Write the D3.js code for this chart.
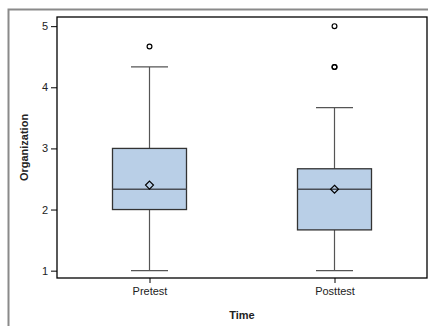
<!DOCTYPE html>
<html>
<head>
<meta charset="utf-8">
<script src="https://cdn.jsdelivr.net/npm/d3@7"></script>
<style>
  body { margin: 0; background: #fff; }
  #chart { width: 428px; height: 326px; }
  text { font-family: "Liberation Sans", Arial, sans-serif; fill: #222; }
  .axis path, .axis line { stroke: #000; }
</style>
</head>
<body>
<div id="chart"></div>
<script>
// Données
const categories = ["Pretest", "Posttest"];
const q1 = [2, 1.667];
const medians = [2.333, 2.333];
const q3 = [3, 2.667];
const whiskerLow = [1, 1];
const whiskerHigh = [4.333, 3.667];
const means = [2.4, 2.333];
const outliers = [[4.667], [5, 4.333, 4.333]];
const yTicks = [1, 2, 3, 4, 5];

const margin = { top: 17, right: 1, bottom: 48, left: 57 };
const W = 428, H = 326;
const width = W - margin.left - margin.right;
const height = H - margin.top - margin.bottom;

const svgRoot = d3.select("#chart").append("svg")
    .attr("width", W)
    .attr("height", H);

// cadre extérieur gris
svgRoot.append("rect")
    .attr("x", 8.5).attr("y", 9.5)
    .attr("width", W + 10).attr("height", H + 10)
    .attr("fill", "none")
    .attr("stroke", "#8a8a8a")
    .attr("stroke-width", 2);

const svg = svgRoot.append("g")
    .attr("transform", "translate(" + margin.left + "," + margin.top + ")");

const x = d3.scalePoint()
    .domain(categories)
    .range([0, width])
    .padding(0.5);

const y = d3.scaleLinear()
    .domain([0.88, 5.15])
    .range([height, 0]);

const boxW = width * 0.2;

const data = categories.map((c, i) => ({
    cat: c, q1: q1[i], med: medians[i], q3: q3[i],
    lo: whiskerLow[i], hi: whiskerHigh[i], mean: means[i], out: outliers[i]
}));

const g = svg.selectAll(".box")
    .data(data)
    .enter().append("g")
    .attr("class", "box")
    .attr("transform", d => "translate(" + x(d.cat) + ",0)");

// moustaches
g.append("line")
    .attr("x1", 0).attr("x2", 0)
    .attr("y1", d => y(d.hi)).attr("y2", d => y(d.q3))
    .attr("stroke", "#555").attr("stroke-width", 1.2);
g.append("line")
    .attr("x1", 0).attr("x2", 0)
    .attr("y1", d => y(d.q1)).attr("y2", d => y(d.lo))
    .attr("stroke", "#555").attr("stroke-width", 1.2);
g.append("line")
    .attr("x1", -boxW / 4).attr("x2", boxW / 4)
    .attr("y1", d => y(d.hi)).attr("y2", d => y(d.hi))
    .attr("stroke", "#555").attr("stroke-width", 1.2);
g.append("line")
    .attr("x1", -boxW / 4).attr("x2", boxW / 4)
    .attr("y1", d => y(d.lo)).attr("y2", d => y(d.lo))
    .attr("stroke", "#555").attr("stroke-width", 1.2);

// boîte
g.append("rect")
    .attr("x", -boxW / 2)
    .attr("y", d => y(d.q3))
    .attr("width", boxW)
    .attr("height", d => y(d.q1) - y(d.q3))
    .attr("fill", "#b9cfe7")
    .attr("stroke", "#333")
    .attr("stroke-width", 1.3);

// médiane
g.append("line")
    .attr("x1", -boxW / 2).attr("x2", boxW / 2)
    .attr("y1", d => y(d.med)).attr("y2", d => y(d.med))
    .attr("stroke", "#4a4f57").attr("stroke-width", 1.6);

// moyenne (losange)
g.append("path")
    .attr("d", d3.symbol().type(d3.symbolDiamond2).size(40))
    .attr("transform", d => "translate(0," + y(d.mean) + ")")
    .attr("fill", "none")
    .attr("stroke", "#000")
    .attr("stroke-width", 1.2);

// valeurs aberrantes
g.selectAll(".out")
    .data(d => d.out)
    .enter().append("circle")
    .attr("class", "out")
    .attr("cx", 0)
    .attr("cy", v => y(v))
    .attr("r", 2.4)
    .attr("fill", "none")
    .attr("stroke", "#000")
    .attr("stroke-width", 1.2);

// cadre du graphique
svg.append("rect")
    .attr("width", width).attr("height", height)
    .attr("fill", "none")
    .attr("stroke", "#000")
    .attr("stroke-width", 1.3);

// axes
svg.append("g")
    .attr("class", "axis")
    .call(d3.axisLeft(y).tickValues(yTicks).tickFormat(d3.format("d")).tickSize(6).tickPadding(3))
    .call(a => a.select(".domain").remove())
    .selectAll("text").style("font-size", "11px").attr("fill", "#222");

svg.append("g")
    .attr("class", "axis")
    .attr("transform", "translate(0," + height + ")")
    .call(d3.axisBottom(x).tickSize(5).tickPadding(4))
    .call(a => a.select(".domain").remove())
    .selectAll("text").style("font-size", "11px").attr("fill", "#222");

// titres des axes
svg.append("text")
    .attr("x", width / 2)
    .attr("y", height + 41)
    .attr("text-anchor", "middle")
    .style("font-size", "11px")
    .style("font-weight", "bold")
    .text("Time");

svg.append("text")
    .attr("transform", "translate(" + (-29) + "," + (height / 2) + ") rotate(-90)")
    .attr("text-anchor", "middle")
    .style("font-size", "11px")
    .style("font-weight", "bold")
    .text("Organization");
</script>
</body>
</html>
